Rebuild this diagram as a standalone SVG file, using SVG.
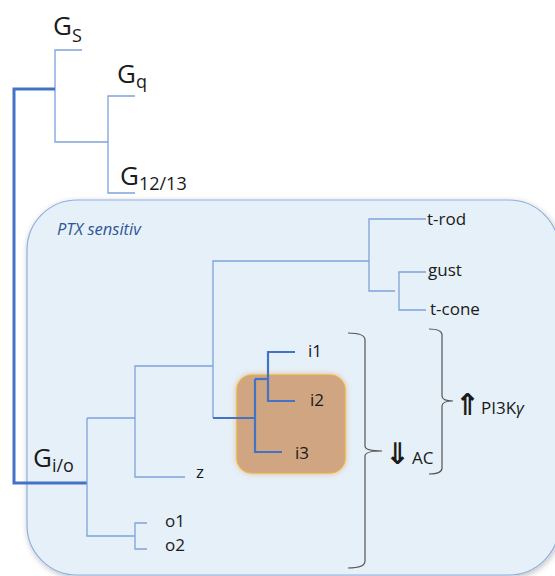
<svg xmlns="http://www.w3.org/2000/svg" width="555" height="576" viewBox="0 0 555 576">
<defs>
<filter id="sh" x="-10%" y="-10%" width="120%" height="120%"><feGaussianBlur in="SourceAlpha" stdDeviation="3"/><feOffset dx="1" dy="2"/><feComponentTransfer><feFuncA type="linear" slope="0.25"/></feComponentTransfer><feMerge><feMergeNode/><feMergeNode in="SourceGraphic"/></feMerge></filter>
<filter id="glow" x="-20%" y="-20%" width="140%" height="140%"><feGaussianBlur in="SourceGraphic" stdDeviation="3"/></filter>
</defs>
<style>
.t{font-family:"Open Sans","Liberation Sans",sans-serif;fill:#1a1a1a}
.thin{fill:none;stroke:#7ea2dc;stroke-width:1.3}
.thick{fill:none;stroke:#4472c4;stroke-width:3}
.mid{fill:none;stroke:#4472c4;stroke-width:2.2}
.br{fill:none;stroke:#555;stroke-width:1.2}
</style>
<g id="ptx-box">
<rect x="27" y="200" width="532" height="375" rx="50" fill="#e6f0f8" stroke="#8eb0e0" stroke-width="1.2" filter="url(#sh)"/>
<text class="t" x="57" y="235" font-size="16.5" font-style="italic" style="fill:#2f5597">PTX sensitiv</text>
</g>
<g id="highlight">
<rect x="237" y="375" width="108" height="98" rx="15" fill="#d9904a" opacity="0.7" filter="url(#glow)"/>
<rect x="237" y="375" width="108" height="98" rx="15" fill="#cfa582" stroke="#e8b040" stroke-width="1.2"/>
</g>
<g id="connectors">
<path class="thin" d="M82,50 H55 V142 H108"/>
<path class="thin" d="M135,96 H108 V193 H135"/>
<path class="thick" d="M55,89 H14 V483 H87"/>
<path class="thin" d="M87,418 V536 H135"/>
<path class="thin" d="M147,523 H135 V549 H147"/>
<path class="thin" d="M87,418 H135"/>
<path class="thin" d="M213,366 H135 V477 H185"/>
<path class="thin" d="M213,418 V261 H369"/>
<path class="thin" d="M426,219 H369 V291 H395"/>
<path class="thin" d="M426,272 H399 V310 H426"/>
<path class="mid" d="M213,418 H255"/>
<path class="mid" d="M255,379 V452 H282"/>
<path class="mid" d="M255,379 H268"/>
<path class="mid" d="M295,352 H268 V401 H295"/>
</g>
<g id="n-gs"><text class="t" x="53" y="35" font-size="26">G<tspan font-size="18" dy="7">S</tspan></text></g>
<g id="n-gq"><text class="t" x="117" y="83" font-size="26">G<tspan font-size="18" dy="5">q</tspan></text></g>
<g id="n-g1213"><text class="t" x="120" y="185" font-size="26">G<tspan font-size="18" dy="5">12/13</tspan></text></g>
<g id="n-gio"><text class="t" x="33" y="467" font-size="26">G<tspan font-size="18" dy="5">i/o</tspan></text></g>
<g id="n-trod"><text class="t" x="427" y="225" font-size="17">t-rod</text></g>
<g id="n-gust"><text class="t" x="428" y="276" font-size="17">gust</text></g>
<g id="n-tcone"><text class="t" x="430" y="315" font-size="17">t-cone</text></g>
<g id="n-i1"><text class="t" x="308" y="357" font-size="17">i1</text></g>
<g id="n-i2"><text class="t" x="310" y="406" font-size="17">i2</text></g>
<g id="n-i3"><text class="t" x="295" y="459" font-size="17">i3</text></g>
<g id="n-z"><text class="t" x="196" y="478" font-size="17">z</text></g>
<g id="n-o1"><text class="t" x="165" y="527" font-size="17">o1</text></g>
<g id="n-o2"><text class="t" x="165" y="551" font-size="17">o2</text></g>
<g id="ac">
<path class="br" d="M348,333 Q365,333 365,340 V446 Q365,451 382,451 Q365,451 365,456 V561 Q365,568 348,568"/>
<text class="t" x="385" y="464" font-size="30" font-weight="bold" style="font-family:'DejaVu Sans',sans-serif">⇓</text>
<text class="t" x="412" y="464" font-size="17">AC</text>
</g>
<g id="pi3k">
<path class="br" d="M429,329 Q442,329 442,335 V396 Q442,401 453,401 Q442,401 442,406 V468 Q442,474 429,474"/>
<text class="t" x="455" y="415" font-size="30" font-weight="bold" style="font-family:'DejaVu Sans',sans-serif">⇑</text>
<text class="t" x="481" y="414" font-size="17">PI3K<tspan font-style="italic">γ</tspan></text>
</g>
</svg>
